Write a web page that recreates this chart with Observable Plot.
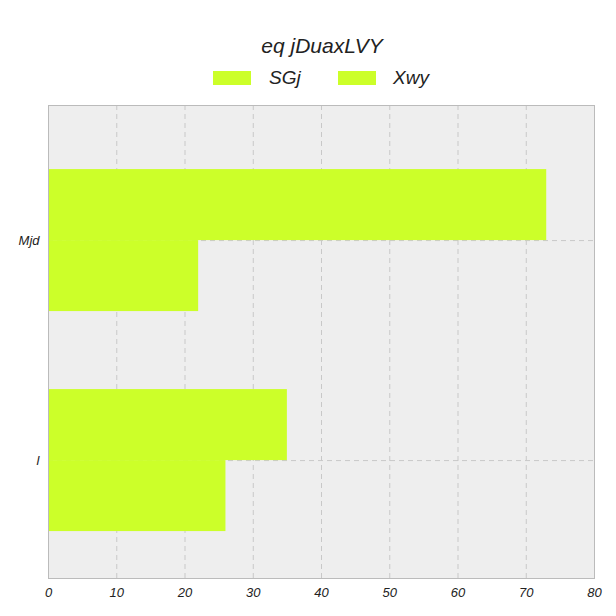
<!DOCTYPE html>
<html><head><meta charset="utf-8">
<script src="https://cdn.jsdelivr.net/npm/d3@7"></script>
<script src="https://cdn.jsdelivr.net/npm/@observablehq/plot@0.6"></script>
<style>
body{margin:0;background:#fff;font-family:"Liberation Sans",Arial,sans-serif;}
#head{position:relative;height:95px;width:616px;font-style:italic;color:#222;}
#title{position:absolute;top:34px;left:0;width:644px;text-align:center;font-size:21px;}
.sw{position:absolute;top:71px;width:38px;height:14px;}
.lt{position:absolute;top:67px;font-size:19px;}
</style></head><body>
<div id="head"><div id="title">eq jDuaxLVY</div></div>
<div id="chart"></div>
<script>
const categories = ["Mjd", "l"];
const series = ["SGj", "Xwy"];
const SGj = [73, 35];
const Xwy = [22, 26];
const xTicks = [0,10,20,30,40,50,60,70,80];
const color = "#ccff29";

const head = document.getElementById("head");
[[213,269],[338,393]].forEach(([sx,tx],i)=>{
  const s=document.createElement("div");s.className="sw";s.style.left=sx+"px";s.style.background=color;head.appendChild(s);
  const t=document.createElement("div");t.className="lt";t.style.left=tx+"px";t.textContent=series[i];head.appendChild(t);
});

const half = 0.3227;
const data = [];
categories.forEach((c,i)=>{
  data.push({cat:c, s:"SGj", v:SGj[i], y1:i-half, y2:i});
  data.push({cat:c, s:"Xwy", v:Xwy[i], y1:i, y2:i+half});
});

const plot = Plot.plot({
  width:616, height:521,
  marginTop:10, marginBottom:38, marginLeft:48, marginRight:22,
  style:{fontFamily:"Liberation Sans, Arial, sans-serif", fontSize:"13px", fontStyle:"italic", color:"#222"},
  x:{domain:[0,80], ticks:xTicks, label:null, tickSize:0},
  y:{domain:[-0.614,1.536], reverse:true, ticks:[0,1], tickFormat:i=>categories[i], label:null, tickSize:0},
  marks:[
    Plot.frame({fill:"#eeeeee", stroke:"#bbbbbb"}),
    Plot.ruleX(xTicks.slice(1,-1), {stroke:"#c8c8c8", strokeDasharray:"5,4"}),
    Plot.ruleY([0,1], {stroke:"#c8c8c8", strokeDasharray:"5,4"}),
    Plot.rectX(data, {x1:0, x2:"v", y1:"y1", y2:"y2", fill:color}),
    Plot.frame({stroke:"#bbbbbb"})
  ]
});
document.getElementById("chart").appendChild(plot);
</script></body></html>
